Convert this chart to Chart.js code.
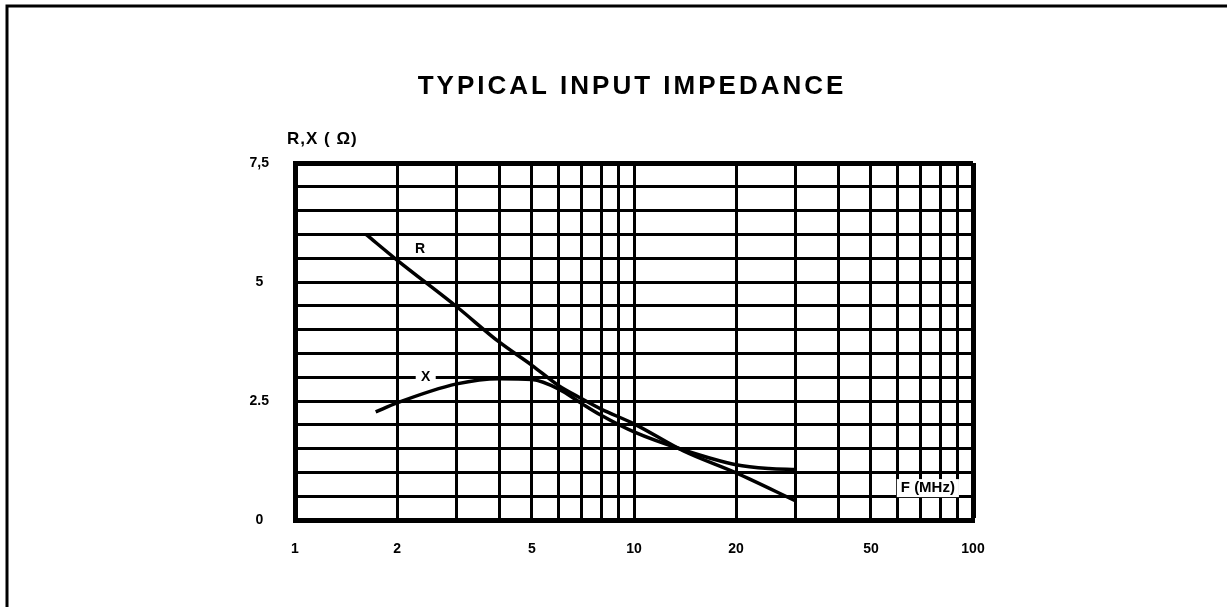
<!DOCTYPE html>
<html>
<head>
<meta charset="utf-8">
<script src="https://cdn.jsdelivr.net/npm/chart.js@4.4.1/dist/chart.umd.min.js"></script>
<style>
  html, body { margin: 0; padding: 0; background: #fff; }
  #chart { display: block; }
</style>
</head>
<body>
<canvas id="chart" width="1227" height="607"></canvas>
<script>
// ---- data ----
const gridFreqs = [1, 2, 3, 4, 5, 6, 7, 8, 9, 10, 20, 30, 40, 50, 60, 70, 80, 90, 100];
const freqLabels = [1, 2, 5, 10, 20, 50, 100];
const yLabelValues = [0, 2.5, 5, 7.5];
const yLabelTexts = ['0', '2.5', '5', '7,5'];

// R (resistance), ohms vs MHz
const freqR = [1.62, 2, 3, 4, 5, 6, 7, 8, 10, 14, 20, 30];
const resistR = [6.0, 5.46, 4.48, 3.74, 3.25, 2.82, 2.55, 2.33, 2.02, 1.45, 0.99, 0.40];

// X (reactance), ohms vs MHz
const freqX = [1.73, 2, 3, 4, 5, 6, 7, 8, 10, 14, 20, 25, 30];
const reactX = [2.27, 2.46, 2.86, 2.97, 2.95, 2.75, 2.45, 2.2, 1.85, 1.47, 1.16, 1.08, 1.06];

const FONT = '"Liberation Sans", Arial, sans-serif';

// white paper, page frame and the printed labels
const paperPlugin = {
  id: 'paper',
  beforeDraw(chart) {
    const { ctx, width, height } = chart;
    ctx.save();
    ctx.fillStyle = '#fff';
    ctx.fillRect(0, 0, width, height);
    ctx.strokeStyle = '#000';
    ctx.lineWidth = 3;
    ctx.beginPath();
    ctx.moveTo(7, height);
    ctx.lineTo(7, 6);
    ctx.lineTo(width, 6);
    ctx.stroke();
    ctx.restore();
  },
  afterDatasetsDraw(chart) {
    const { ctx, scales: { x, y } } = chart;
    ctx.save();
    ctx.fillStyle = '#000';
    ctx.textBaseline = 'middle';

    // title
    ctx.textAlign = 'center';
    ctx.font = 'bold 26px ' + FONT;
    ctx.letterSpacing = '3px';
    ctx.fillText('TYPICAL INPUT IMPEDANCE', 632, 87);

    // y axis title
    ctx.textAlign = 'left';
    ctx.font = 'bold 17px ' + FONT;
    ctx.letterSpacing = '1px';
    ctx.fillText('R,X ( Ω)', 287, 139);
    ctx.letterSpacing = '0px';

    // curve names
    ctx.textAlign = 'center';
    ctx.font = 'bold 14px ' + FONT;
    ctx.fillText('R', x.getPixelForValue(2.34), y.getPixelForValue(5.68));

    const xx = x.getPixelForValue(2.43), xy = y.getPixelForValue(3.0);
    ctx.fillStyle = '#fff';
    ctx.fillRect(xx - 10, xy - 6, 20, 12);
    ctx.fillStyle = '#000';
    ctx.fillText('X', xx, xy);

    // frequency unit, printed inside the grid
    const fx = x.getPixelForValue(73.6), fy = y.getPixelForValue(0.67);
    ctx.font = 'bold 15px ' + FONT;
    const w = ctx.measureText('F (MHz)').width;
    ctx.fillStyle = '#fff';
    ctx.fillRect(fx - w / 2 - 4, fy - 9, w + 8, 18);
    ctx.fillStyle = '#000';
    ctx.fillText('F (MHz)', fx, fy);
    ctx.restore();
  }
};

const ctx = document.getElementById('chart').getContext('2d');
new Chart(ctx, {
  type: 'scatter',
  data: {
    datasets: [
      {
        label: 'R',
        data: freqR.map((f, i) => ({ x: f, y: resistR[i] })),
        showLine: true,
        borderColor: '#000',
        borderWidth: 3.5,
        pointRadius: 0,
        cubicInterpolationMode: 'monotone'
      },
      {
        label: 'X',
        data: freqX.map((f, i) => ({ x: f, y: reactX[i] })),
        showLine: true,
        borderColor: '#000',
        borderWidth: 3.5,
        pointRadius: 0,
        cubicInterpolationMode: 'monotone'
      }
    ]
  },
  options: {
    responsive: false,
    animation: false,
    events: [],
    layout: { padding: { top: 163, right: 254, left: 245, bottom: 0 } },
    plugins: {
      legend: { display: false },
      tooltip: { enabled: false },
      title: { display: false }
    },
    scales: {
      x: {
        type: 'logarithmic',
        min: 1,
        max: 100,
        afterBuildTicks: (s) => { s.ticks = gridFreqs.map(v => ({ value: v })); },
        afterFit: (s) => { s.height = 87; },
        grid: {
          color: '#000',
          lineWidth: (c) => (c.tick && c.tick.value === 100 ? 5 : 3),
          drawTicks: false
        },
        border: { display: true, color: '#000', width: 5 },
        ticks: {
          autoSkip: false,
          maxRotation: 0,
          padding: 21,
          color: '#000',
          font: { family: FONT, size: 14, weight: 'bold' },
          callback: (v) => (freqLabels.includes(v) ? String(v) : '')
        }
      },
      y: {
        min: 0,
        max: 7.5,
        afterFit: (s) => { s.width = 50; },
        grid: {
          color: '#000',
          lineWidth: (c) => (c.tick && c.tick.value === 7.5 ? 5 : 3),
          drawTicks: false
        },
        border: { display: true, color: '#000', width: 5 },
        ticks: {
          stepSize: 0.5,
          crossAlign: 'center',
          padding: 26,
          color: '#000',
          font: { family: FONT, size: 14, weight: 'bold' },
          callback: (v) => {
            const i = yLabelValues.indexOf(v);
            return i >= 0 ? yLabelTexts[i] : '';
          }
        }
      }
    }
  },
  plugins: [paperPlugin]
});
</script>
</body>
</html>
